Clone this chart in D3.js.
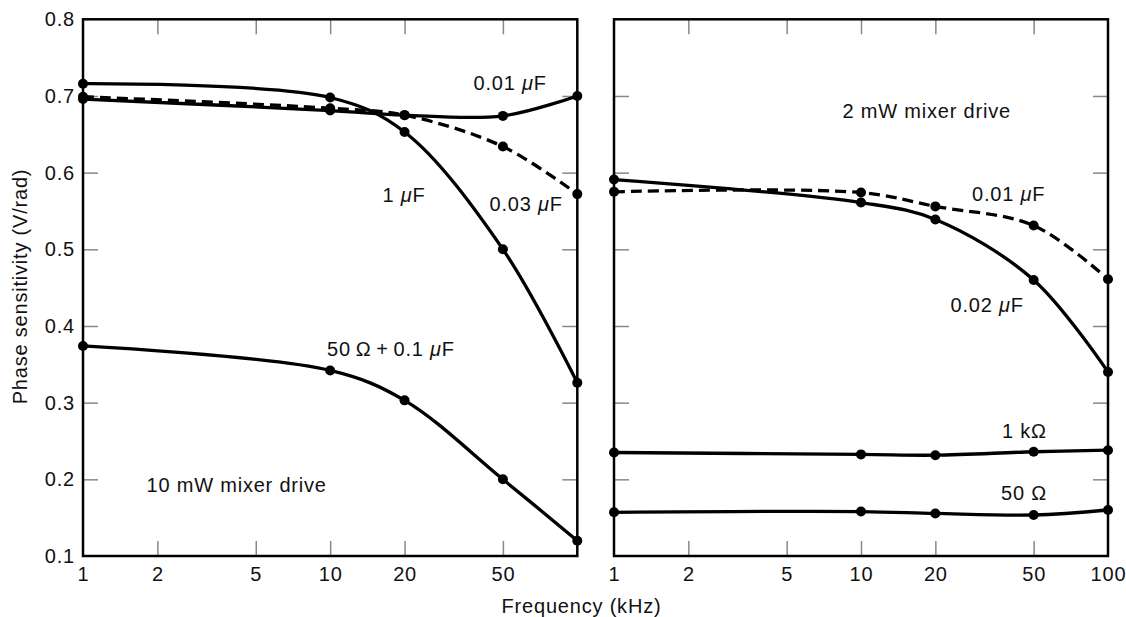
<!DOCTYPE html>
<html>
<head>
<meta charset="utf-8">
<script src="https://cdn.jsdelivr.net/npm/d3@7"></script>
<style>
  html, body { margin: 0; padding: 0; background: #fff; }
  svg text { font-family: "Liberation Sans", Arial, Helvetica, sans-serif; font-size: 20px; letter-spacing: 0.8px; fill: #111; }
</style>
</head>
<body>
<svg id="chart" width="1126" height="617"></svg>
<script>
// ---------------- data ----------------
const freqs = [1, 10, 20, 50, 100];               // kHz, measured points
const yTickValues = [0.1, 0.2, 0.3, 0.4, 0.5, 0.6, 0.7, 0.8];
const yInnerTicks = [0.2, 0.3, 0.4, 0.5, 0.6, 0.7];
const xInnerTicks = [2, 5, 10, 20, 50];
const leftXLabels = [1, 2, 5, 10, 20, 50];
const rightXLabels = [1, 2, 5, 10, 20, 50, 100];

// 10 mW mixer drive (left panel)
const left_1uF      = [0.716, 0.698, 0.653, 0.500, 0.326];
const left_001uF    = [0.696, 0.681, 0.675, 0.674, 0.700];
const left_003uF    = [0.699, 0.684, 0.675, 0.634, 0.572];
const left_50R01uF  = [0.374, 0.342, 0.303, 0.200, 0.120];

// 2 mW mixer drive (right panel)
const right_002uF   = [0.591, 0.561, 0.539, 0.460, 0.340];
const right_001uF   = [0.575, 0.574, 0.556, 0.531, 0.461];
const right_1k      = [0.235, 0.2325, 0.2315, 0.236, 0.238];
const right_50R     = [0.157, 0.158, 0.1555, 0.1535, 0.160];

// ---------------- layout ----------------
const svg = d3.select("#chart");
const plotTop = 19.3, plotBottom = 556;
const y = d3.scaleLinear().domain([0.1, 0.8]).range([plotBottom, plotTop]);

const panels = [
  { x0: 83, x1: 577.3, xLabels: leftXLabels, yLabels: true,
    series: [
      { v: left_1uF, dash: null },
      { v: left_001uF, dash: null },
      { v: left_003uF, dash: "11,6" },
      { v: left_50R01uF, dash: null }
    ],
    labels: [
      { t: ["0.01 ", "μ", "F"], x: 473.5, y: 89.5 },
      { t: ["1 ", "μ", "F"], x: 382.5, y: 202 },
      { t: ["0.03 ", "μ", "F"], x: 489.5, y: 211 },
      { t: ["50\u2009Ω\u2009+\u20090.1 ", "μ", "F"], x: 327, y: 355.5 },
      { t: ["10 mW mixer drive"], x: 146.5, y: 492 }
    ]
  },
  { x0: 614, x1: 1108, xLabels: rightXLabels, yLabels: false,
    series: [
      { v: right_002uF, dash: null },
      { v: right_001uF, dash: "11,6" },
      { v: right_1k, dash: null },
      { v: right_50R, dash: null }
    ],
    labels: [
      { t: ["2 mW mixer drive"], x: 842.5, y: 118 },
      { t: ["0.01 ", "μ", "F"], x: 972, y: 201 },
      { t: ["0.02 ", "μ", "F"], x: 950.5, y: 312 },
      { t: ["1 kΩ"], x: 1002, y: 438 },
      { t: ["50 Ω"], x: 1001, y: 500 }
    ]
  }
];

const tickColor = "#888";

panels.forEach(p => {
  const x = d3.scaleLog().domain([1, 100]).range([p.x0, p.x1]);
  const g = svg.append("g");

  function styleTicks(sel) {
    sel.select(".domain").remove();
    sel.selectAll(".tick line").attr("stroke", tickColor).attr("stroke-width", 1.5);
  }

  // inward ticks on all four sides
  g.append("g").attr("transform", `translate(0,${plotBottom})`)
    .call(d3.axisBottom(x).tickValues(xInnerTicks).tickSize(-15).tickFormat(""))
    .call(styleTicks);
  g.append("g").attr("transform", `translate(0,${plotTop})`)
    .call(d3.axisTop(x).tickValues(xInnerTicks).tickSize(-15).tickFormat(""))
    .call(styleTicks);
  g.append("g").attr("transform", `translate(${p.x0},0)`)
    .call(d3.axisLeft(y).tickValues(yInnerTicks).tickSize(-15).tickFormat(""))
    .call(styleTicks);
  g.append("g").attr("transform", `translate(${p.x1},0)`)
    .call(d3.axisRight(y).tickValues(yInnerTicks).tickSize(-15).tickFormat(""))
    .call(styleTicks);

  // x tick labels
  const xl = g.append("g").attr("transform", `translate(0,${plotBottom})`)
    .call(d3.axisBottom(x).tickValues(p.xLabels).tickSize(0).tickPadding(11).tickFormat(d3.format("d")));
  xl.select(".domain").remove();
  xl.attr("font-size", null).attr("font-family", null);

  // y tick labels
  if (p.yLabels) {
    const yl = g.append("g").attr("transform", `translate(${p.x0},0)`)
      .call(d3.axisLeft(y).tickValues(yTickValues).tickSize(0).tickPadding(8).tickFormat(d3.format(".1f")));
    yl.select(".domain").remove();
    yl.attr("font-size", null).attr("font-family", null);
  }

  // frame
  g.append("rect")
    .attr("x", p.x0).attr("y", plotTop)
    .attr("width", p.x1 - p.x0).attr("height", plotBottom - plotTop)
    .attr("fill", "none").attr("stroke", "#000").attr("stroke-width", 2.5);

  // curves
  const line = d3.line()
    .x(d => x(d[0])).y(d => y(d[1]))
    .curve(d3.curveCatmullRom.alpha(0.5));

  p.series.forEach(s => {
    const pts = freqs.map((f, i) => [f, s.v[i]]);
    g.append("path")
      .datum(pts)
      .attr("d", line)
      .attr("fill", "none")
      .attr("stroke", "#000")
      .attr("stroke-width", 3.3)
      .attr("stroke-dasharray", s.dash);
  });
  p.series.forEach(s => {
    const pts = freqs.map((f, i) => [f, s.v[i]]);
    g.append("g").selectAll("circle").data(pts).join("circle")
      .attr("cx", d => x(d[0])).attr("cy", d => y(d[1]))
      .attr("r", 5).attr("fill", "#000");
  });

  // annotations
  p.labels.forEach(l => {
    const t = g.append("text").attr("x", l.x).attr("y", l.y);
    l.t.forEach(part => {
      const ts = t.append("tspan").text(part);
      if (part === "μ") ts.attr("font-style", "italic");
    });
  });
});

// axis titles
svg.append("text")
  .attr("x", 581.5).attr("y", 613)
  .attr("text-anchor", "middle")
  .text("Frequency (kHz)");

svg.append("text")
  .attr("transform", "translate(27,286.5) rotate(-90)")
  .attr("text-anchor", "middle")
  .text("Phase sensitivity (V/rad)");
</script>
</body>
</html>
